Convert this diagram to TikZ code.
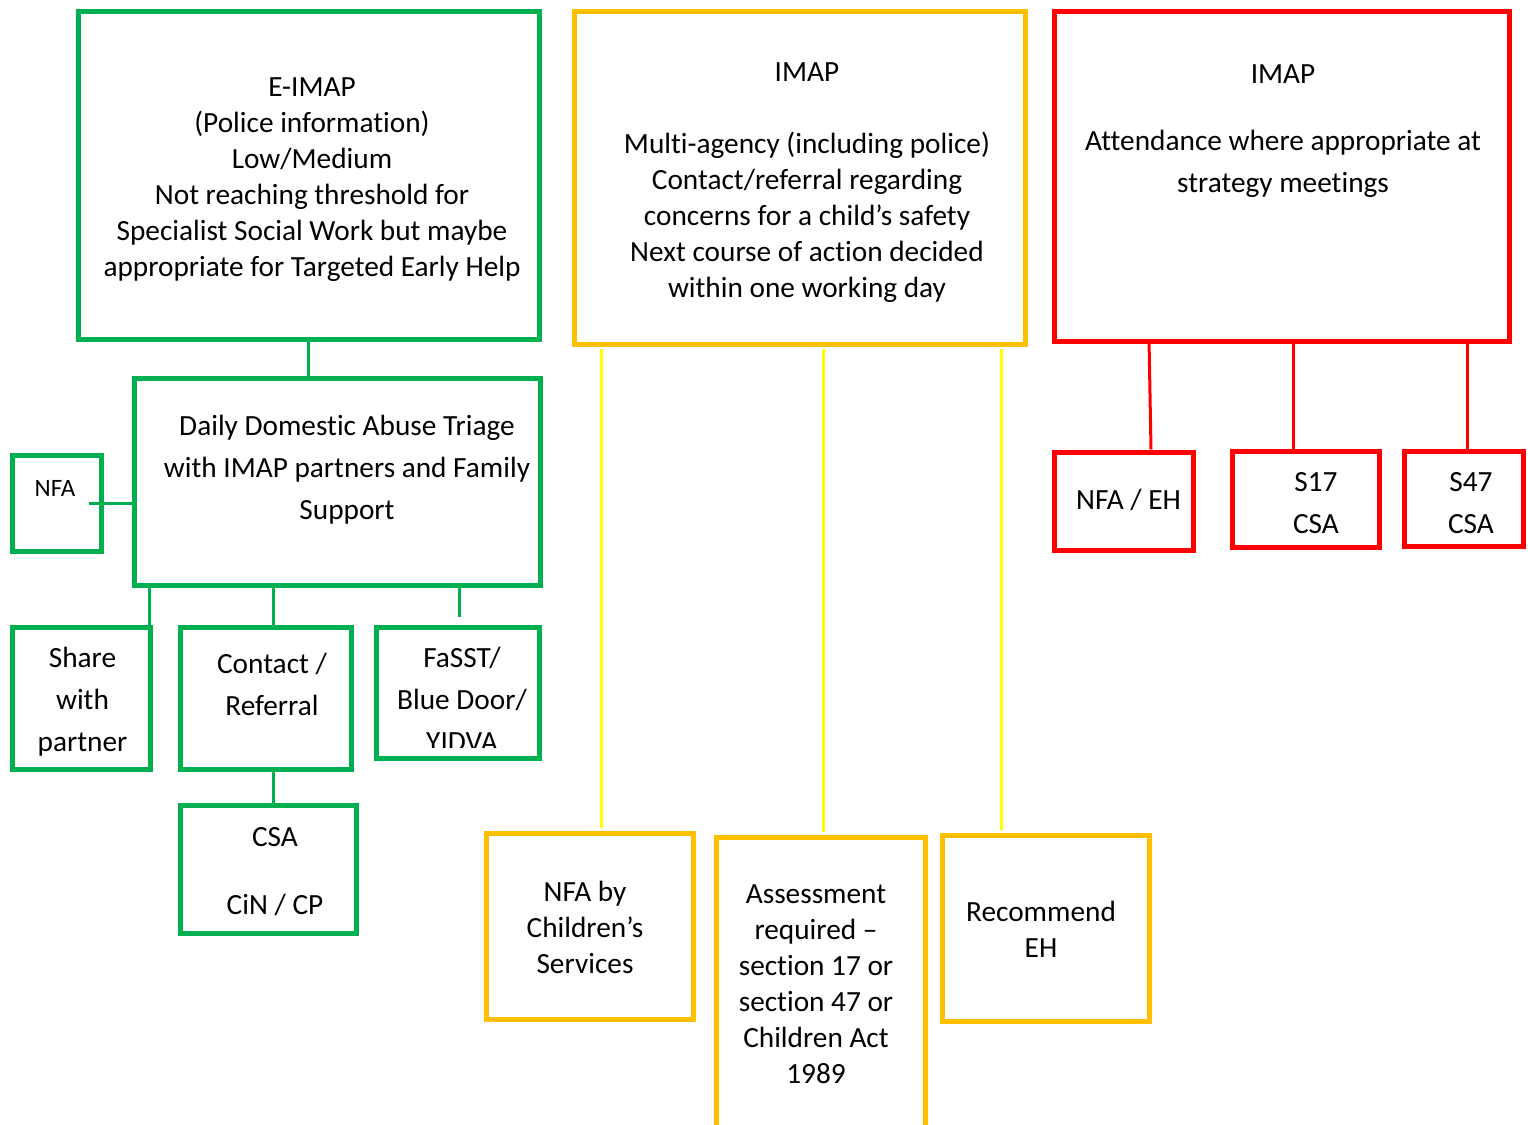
\documentclass[tikz,border=0pt]{standalone}
\usepackage{fontspec}
\setmainfont{Carlito}[Ligatures=NoCommon]
\usetikzlibrary{fit}
\definecolor{cgreen}{HTML}{00B050}
\definecolor{cgold}{HTML}{FFC000}
\definecolor{cyel}{HTML}{FFFF00}
\definecolor{cred}{HTML}{FF0000}
\tikzset{
  box/.style={draw, line width=5pt, inner sep=0pt, rectangle},
  gbox/.style={box, draw=cgreen},
  ybox/.style={box, draw=cgold},
  rbox/.style={box, draw=cred},
  txt/.style={align=center, inner sep=0pt, font=\fontsize{29.3}{36}\selectfont,
    execute at begin node=\strut, execute at end node=\strut},
  txtw/.style={txt, font=\fontsize{29.3}{42}\selectfont},
  txts/.style={txt, font=\fontsize{25}{30}\selectfont},
  gline/.style={draw=cgreen, line width=3pt},
  yline/.style={draw=cyel, line width=3pt},
  rline/.style={draw=cred, line width=3pt},
}
\begin{document}
\begin{tikzpicture}[x=1pt,y=-1pt]
\useasboundingbox (0,0) rectangle (1528,1124);

% ---------- green branch ----------
\node[gbox, fit={(78,12) (539,339)}] (eimap) {};
\node[txt] (eimap-t) at (312,182) {E-IMAP\\(Police information)\\Low/Medium\\Not reaching threshold for\\Specialist Social Work but maybe\\appropriate for Targeted Early Help};

\node[gbox, fit={(134,378) (540,585)}] (triage) {};
\node[txtw] (triage-t) at (347,474) {Daily Domestic Abuse Triage\\with IMAP partners and Family\\Support};

\node[gbox, fit={(12,455) (101,551)}] (nfa) {};
\node[txts] (nfa-t) at (55,490) {NFA};

\node[gbox, fit={(12,627) (150,769)}] (share) {};
\node[txtw] (share-t) at (82.5,706) {Share\\with\\partner};

\node[gbox, fit={(180,627) (351,769)}] (contact) {};
\node[txtw] (contact-t) at (272,691) {Contact /\\Referral};

\node[gbox, fit={(376,627) (539,758)}] (fasst) {};
\begin{scope}
  \clip (376,600) rectangle (539,747);
  \node[txtw] (fasst-t) at (462,706) {FaSST/\\Blue Door/\\YIDVA};
\end{scope}

\node[gbox, fit={(180,805) (356,933)}] (csa) {};
\node[txtw] (csa-t) at (275,877) {CSA\\[26pt]CiN / CP};

\coordinate (fend) at (459,617);
\draw[gline] (eimap.south) -- (eimap.south |- triage.north);
\draw[gline] (89,0 |- nfa.east) -- (nfa.east -| triage.west);
\draw[gline] (149,0 |- triage.south) -- (149,0 |- share.north);
\draw[gline] (273,0 |- triage.south) -- (273,0 |- contact.north);
\draw[gline] (459,0 |- triage.south) -- (fend);
\draw[gline] (273,0 |- contact.south) -- (273,0 |- csa.north);

% ---------- yellow branch ----------
\node[ybox, fit={(574,12) (1025,344)}] (imap2) {};
\node[txt] (imap2-t) at (807,185) {IMAP\\ \\Multi-agency (including police)\\Contact/referral regarding\\concerns for a child’s safety\\Next course of action decided\\within one working day};

\node[ybox, fit={(486,833) (693,1019)}] (nfacs) {};
\node[txt] (nfacs-t) at (585,933) {NFA by\\Children’s\\Services};

\node[ybox, fit={(716,837) (925,1140)}] (assess) {};
\node[txt] (assess-t) at (816,989) {Assessment\\required –\\section 17 or\\section 47 or\\Children Act\\1989};

\node[ybox, fit={(942,835) (1149,1021)}] (receh) {};
\node[txt] (receh-t) at (1041,935) {Recommend\\EH};

\draw[yline] ([yshift=-2.5pt]601,0 |- imap2.south) -- ([yshift=2.5pt]601,0 |- nfacs.north);
\draw[yline] ([yshift=-2.5pt]823,0 |- imap2.south) -- ([yshift=2.5pt]823,0 |- assess.north);
\draw[yline] ([yshift=-2.5pt]1001,0 |- imap2.south) -- ([yshift=2.5pt]1001,0 |- receh.north);

% ---------- red branch ----------
\node[rbox, fit={(1054,12) (1509,341)}] (imap3) {};
\node[txtw] (imap3-t) at (1283,135) {IMAP\\[25pt]Attendance where appropriate at\\strategy meetings};

\node[rbox, fit={(1054,452) (1193,550)}] (nfaeh) {};
\node[txt] (nfaeh-t) at (1128.5,502) {NFA / EH};

\node[rbox, fit={(1232,451) (1379,547)}] (s17) {};
\node[txtw] (s17-t) at (1316,509) {S17\\CSA};

\node[rbox, fit={(1404,451) (1523,546)}] (s47) {};
\node[txtw] (s47-t) at (1471,509) {S47\\CSA};

\draw[rline] ([yshift=4pt]1149,0 |- imap3.south) -- (1151,0 |- nfaeh.north);
\draw[rline] (1293,0 |- imap3.south) -- (1293,0 |- s17.north);
\draw[rline] ([yshift=4pt]1467,0 |- imap3.south) -- (1467,0 |- s47.north);
\end{tikzpicture}
\end{document}
